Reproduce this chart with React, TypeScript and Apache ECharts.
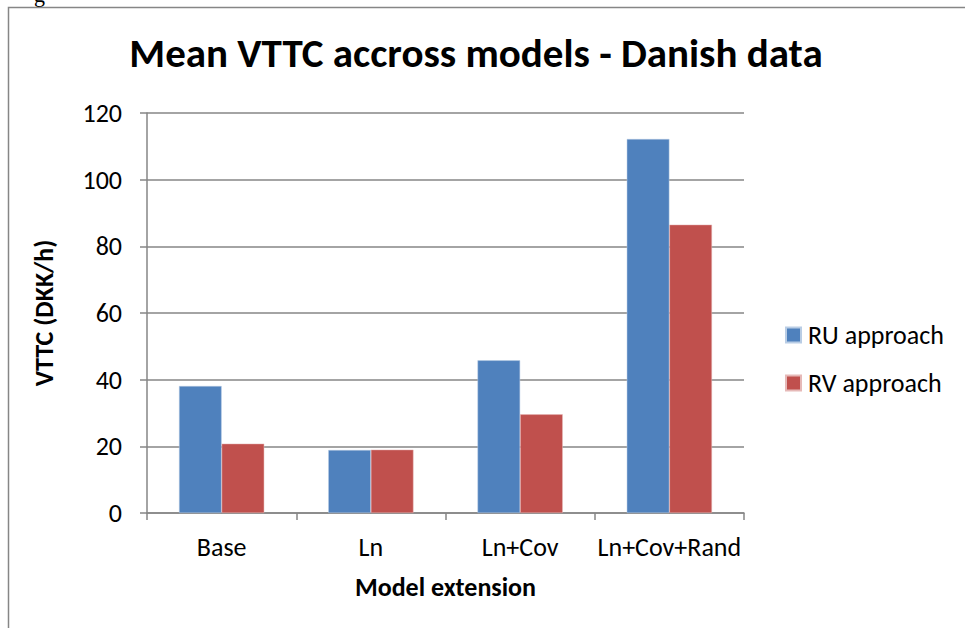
import React, { useEffect, useRef } from "react";
import * as echarts from "echarts";

const categories = ["Base", "Ln", "Ln+Cov", "Ln+Cov+Rand"];
const ruValues = [38.1, 18.9, 45.8, 112.2];
const rvValues = [20.8, 19.0, 29.6, 86.5];
const seriesNames = ["RU approach", "RV approach"];
const yTicks = { min: 0, max: 120, interval: 20 };

const FONT = "Carlito, Calibri, 'Open Sans', sans-serif";

export default function App() {
  const ref = useRef<HTMLDivElement>(null);
  useEffect(() => {
    document.body.style.margin = "0";
    const chart = echarts.init(ref.current!, null, { renderer: "svg" });
    chart.setOption({
      animation: false,
      backgroundColor: "#ffffff",
      textStyle: { fontFamily: FONT, color: "#000" },
      title: {
        text: "Mean VTTC accross models - Danish data",
        left: 471,
        top: 27,
        textAlign: "center",
        textStyle: { fontFamily: FONT, fontSize: 41, fontWeight: "bold", color: "#000" },
      },
      legend: {
        orient: "vertical",
        left: 780,
        top: 317,
        itemWidth: 15,
        itemHeight: 15,
        itemGap: 22,
        icon: "rect",
        textStyle: { fontFamily: FONT, fontSize: 26, color: "#000", padding: [0, 0, 0, 2] },
        data: seriesNames,
      },
      grid: { left: 147, right: 221, top: 113, bottom: 115, containLabel: false },
      xAxis: {
        type: "category",
        data: categories,
        name: "Model extension",
        nameLocation: "middle",
        nameGap: 61,
        nameTextStyle: { fontFamily: FONT, fontSize: 26, fontWeight: "bold", color: "#000" },
        axisLine: { show: true, lineStyle: { color: "#868686", width: 1.5 } },
        axisTick: { show: true, length: 7, alignWithLabel: false, lineStyle: { color: "#868686", width: 1.5 } },
        axisLabel: { fontFamily: FONT, fontSize: 26, color: "#000", margin: 21, interval: 0 },
      },
      yAxis: {
        type: "value",
        min: yTicks.min,
        max: yTicks.max,
        interval: yTicks.interval,
        name: "VTTC (DKK/h)",
        nameLocation: "middle",
        nameGap: 90,
        nameRotate: 90,
        nameTextStyle: { fontFamily: FONT, fontSize: 26, fontWeight: "bold", color: "#000" },
        axisLine: { show: true, lineStyle: { color: "#868686", width: 1.5 } },
        axisTick: { show: true, length: 7, lineStyle: { color: "#868686", width: 1.5 } },
        axisLabel: { fontFamily: FONT, fontSize: 26, color: "#000", margin: 25 },
        splitLine: { show: true, lineStyle: { color: "#868686", width: 1.5 } },
      },
      series: [
        {
          name: seriesNames[0],
          type: "bar",
          data: ruValues,
          barWidth: 42.6,
          barGap: "0%",
          itemStyle: { color: "#4F81BD", borderColor: "#b9cde5", borderWidth: 0.5 },
        },
        {
          name: seriesNames[1],
          type: "bar",
          data: rvValues,
          barWidth: 42.6,
          barGap: "0%",
          itemStyle: { color: "#C0504D", borderColor: "#e6b9b8", borderWidth: 0.5 },
        },
      ],
      graphic: [
        {
          type: "polyline",
          shape: { points: [[8.5, 628], [8.5, 7.5], [965, 7.5]] },
          style: { stroke: "#868686", lineWidth: 1.5, fill: null },
          silent: true,
        },
        {
          type: "text",
          left: 34,
          top: -17,
          style: { text: "g", font: "22px 'Liberation Serif', serif", fill: "#000" },
          silent: true,
        },
      ],
    });
    return () => chart.dispose();
  }, []);
  return (
    <div
      ref={ref}
      style={{ position: "fixed", left: 0, top: 0, width: 965, height: 628 }}
    />
  );
}
